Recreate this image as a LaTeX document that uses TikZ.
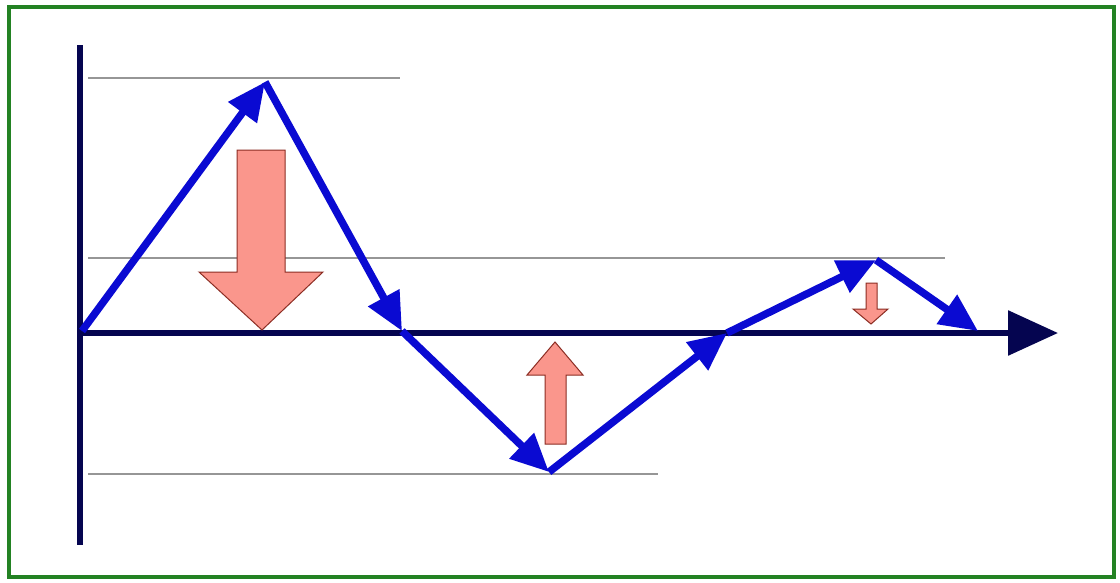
\documentclass[tikz,border=0pt]{standalone}
\usetikzlibrary{arrows.meta}
\definecolor{frame}{RGB}{35,130,35}
\definecolor{navy}{RGB}{5,5,80}
\definecolor{zig}{RGB}{10,10,210}
\definecolor{salmon}{RGB}{250,150,140}
\definecolor{salmonline}{RGB}{140,45,35}
\definecolor{guide}{RGB}{150,150,150}
\tikzset{
  x=1pt, y=-1pt,
  axis/.style={navy, line width=6pt},
  guideline/.style={guide, line width=1.6pt},
  zigseg/.style={zig, line width=7.5pt, -{Triangle[length=38pt,width=34pt]}},
  force/.style={fill=salmon, draw=salmonline, line width=1pt, line join=miter},
}
\begin{document}
\begin{tikzpicture}
\useasboundingbox (0,0) rectangle (1120,582);
\fill[white] (0,0) rectangle (1120,582);
\draw[frame, line width=3.5pt] (9,7) rectangle (1114,577);

% guide lines
\draw[guideline] (88,78) -- (400,78);
\draw[guideline] (88,258) -- (945,258);
\draw[guideline] (88,474) -- (658,474);

% axes
\coordinate (ytop) at (80,45);
\coordinate (ybot) at (80,545);
\coordinate (o) at (80,333);
\coordinate (xend) at (1058,333);
\draw[axis] (ytop) -- (ybot);
\draw[axis, -{Triangle[length=50pt,width=44pt]}] (o) -- (xend);

% zigzag points
\coordinate (p0) at (82,331);
\coordinate (p1) at (265,82);
\coordinate (p2) at (402,331);
\coordinate (p3) at (549,472);
\coordinate (p4) at (727,333);
\coordinate (p5) at (876,260);
\coordinate (p6) at (978,331);

% salmon force arrows
\draw[force] (237,150) -- (285,150) -- (285,272) -- (323,272) -- (262,330)
  -- (199,272) -- (237,272) -- cycle;
\draw[force] (545,444) -- (566,444) -- (566,375) -- (583,375) -- (555,342)
  -- (527,375) -- (545,375) -- cycle;
\draw[force] (866,283) -- (877,283) -- (877,309) -- (888,309) -- (871,324)
  -- (853,309) -- (866,309) -- cycle;

\draw[zigseg] (p0) -- (p1);
\draw[zigseg] (p1) -- (p2);
\draw[zigseg] (p2) -- (p3);
\draw[zigseg] (p3) -- (p4);
\draw[zigseg] (p4) -- (p5);
\draw[zigseg] (p5) -- (p6);
\end{tikzpicture}
\end{document}
